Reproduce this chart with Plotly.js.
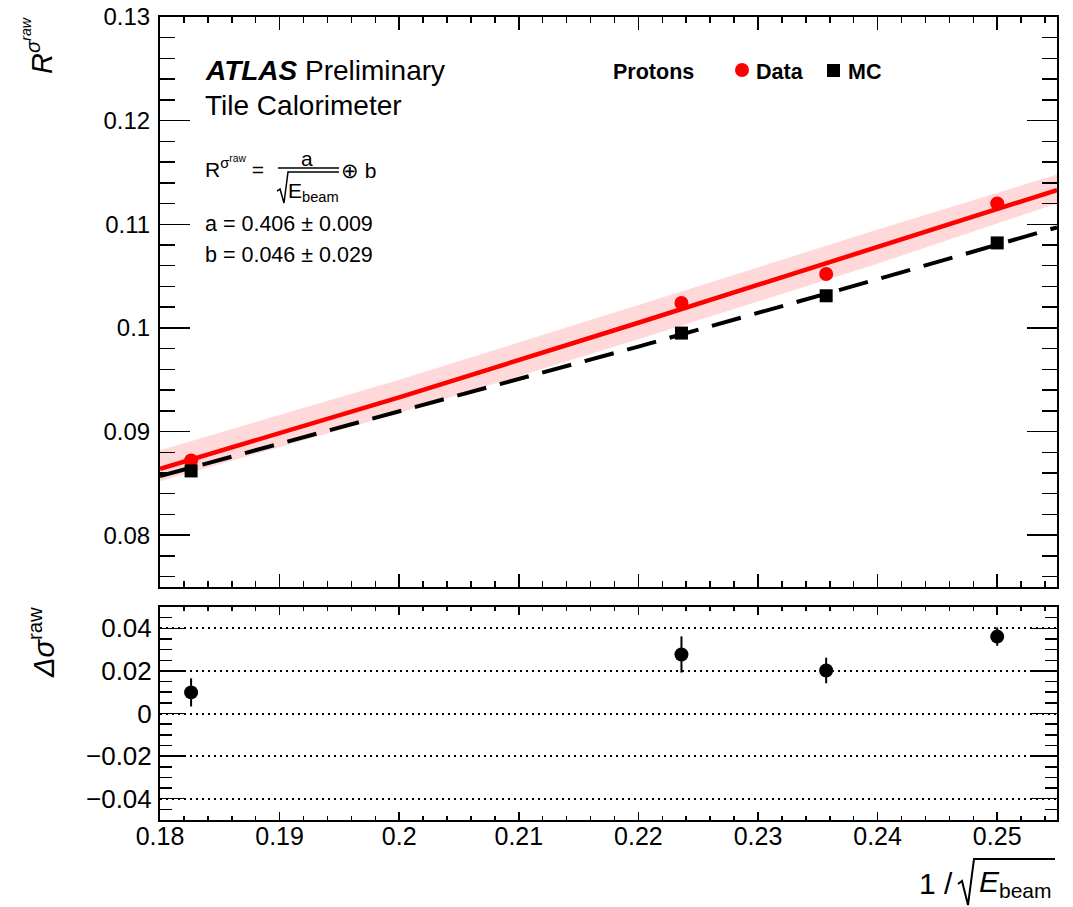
<!DOCTYPE html>
<html>
<head>
<meta charset="utf-8">
<script src="https://cdn.plot.ly/plotly-3.0.1.min.js"></script>
<style>html,body{margin:0;padding:0;background:#fff;}#chart{width:1073px;height:907px;}</style>
</head>
<body>
<div id="chart"></div>
<script>
// ---------- data ----------
const xBeam = [0.1826, 0.2236, 0.2357, 0.25];          // 1/sqrt(E_beam)
const rData = [0.0872, 0.1024, 0.1052, 0.1120];        // R^sigma_raw, data
const rMC = [0.0862, 0.0995, 0.1031, 0.1082];          // R^sigma_raw, MC
const fitX = [0.18, 0.20, 0.22, 0.24, 0.255];
const fitData = [0.0864, 0.0933, 0.1005, 0.1078, 0.1133];
const bandUp = [0.0882, 0.0950, 0.1022, 0.1095, 0.1148];
const bandLow = [0.0852, 0.0918, 0.0989, 0.1062, 0.1120];
const fitMC = [0.0857, 0.0919, 0.0982, 0.1047, 0.1097];
const delta = [0.0099, 0.0277, 0.0202, 0.0361];        // Delta sigma_raw
const deltaErr = [0.0066, 0.0085, 0.0060, 0.0043];

const xTickVals = [0.18, 0.19, 0.20, 0.21, 0.22, 0.23, 0.24, 0.25];
const xTickText = ["0.18", "0.19", "0.2", "0.21", "0.22", "0.23", "0.24", "0.25"];
const yTickVals = [0.08, 0.09, 0.10, 0.11, 0.12, 0.13];
const yTickText = ["0.08", "0.09", "0.1", "0.11", "0.12", "0.13"];
const y2TickVals = [-0.04, -0.02, 0, 0.02, 0.04];
const y2TickText = ["\u22120.04", "\u22120.02", "0", "0.02", "0.04"];

// ---------- pixel helpers for decorations ----------
const L = 160, R = 1057, T = 17, B = 820;
const px = p => (p - L) / (R - L);
const py = p => (B - p) / (B - T);
const path = pts => pts.map((p, i) => (i ? 'L' : 'M') + px(p[0]).toFixed(5) + ',' + py(p[1]).toFixed(5)).join(' ');
const FONT = "Liberation Sans, Arial, sans-serif";

const traces = [
  { x: fitX.concat(fitX.slice().reverse()), y: bandUp.concat(bandLow.slice().reverse()),
    xaxis: 'x', yaxis: 'y', mode: 'lines', fill: 'toself', line: {width: 0},
    fillcolor: 'rgba(255,120,120,0.28)', hoverinfo: 'skip', showlegend: false },
  { x: fitX, y: fitData, xaxis: 'x', yaxis: 'y', mode: 'lines',
    line: {color: '#ff0000', width: 4.5}, showlegend: false },
  { x: fitX, y: fitMC, xaxis: 'x', yaxis: 'y', mode: 'lines',
    line: {color: '#000000', width: 4, dash: '30px,14px'}, showlegend: false },
  { x: xBeam, y: rData, xaxis: 'x', yaxis: 'y', mode: 'markers', name: 'Data',
    marker: {symbol: 'circle', size: 14, color: '#ff0000'}, showlegend: false },
  { x: xBeam, y: rMC, xaxis: 'x', yaxis: 'y', mode: 'markers', name: 'MC',
    marker: {symbol: 'square', size: 13, color: '#000000'}, showlegend: false },
  { x: xBeam, y: delta, xaxis: 'x2', yaxis: 'y2', mode: 'markers',
    marker: {symbol: 'circle', size: 14, color: '#000000'},
    error_y: {type: 'data', array: deltaErr, visible: true, color: '#000', thickness: 2, width: 0},
    showlegend: false }
];

const axBase = {
  ticks: 'inside', showline: true, linecolor: '#000', linewidth: 2, mirror: 'allticks',
  showgrid: false, zeroline: false, tickcolor: '#000', tickwidth: 1.5,
  tickfont: {family: FONT, size: 24, color: '#000'}
};

const ann = (x, y, text, size, extra) => Object.assign({
  xref: 'paper', yref: 'paper', x: px(x), y: py(y), text: text, showarrow: false,
  xanchor: 'left', yanchor: 'middle', font: {family: FONT, size: size, color: '#000'}
}, extra || {});

const annotations = [
  ann(203, 70, '<b><i>ATLAS</i></b> Preliminary', 28),
  ann(203, 105, 'Tile Calorimeter', 28),
  ann(203, 167, 'R<sup>σ<sup>raw</sup></sup> =', 21),
  ann(307, 158, 'a', 21, {xanchor: 'center'}),
  ann(286, 192, 'E<sub>beam</sub>', 21),
  ann(339, 170, '⊕ b', 21),
  ann(203, 224, 'a = 0.406 ± 0.009', 21.5),
  ann(203, 255, 'b = 0.046 ± 0.029', 21.5),
  ann(611, 72, '<b>Protons</b>', 21.5),
  ann(754, 72, '<b>Data</b>', 21.5),
  ann(846, 72, '<b>MC</b>', 21.5),
  ann(38, 46, '<i>R</i><sup><i>σ</i><sup><i>raw</i></sup></sup>', 29, {xanchor: 'center', textangle: -90}),
  ann(42, 643, '<i>Δσ</i><sup>raw</sup>', 29, {xanchor: 'center', textangle: -90}),
  ann(955, 883, '1 /', 30, {xanchor: 'right'}),
  ann(977, 883, '<i>E</i><sub>beam</sub>', 30)
];

const shapes = [
  // fraction bar and radical of the fit formula
  {type: 'line', xref: 'paper', yref: 'paper', x0: px(278), x1: px(339), y0: py(168), y1: py(168), line: {color: '#000', width: 1.5}},
  {type: 'path', xref: 'paper', yref: 'paper', path: path([[277, 191], [280, 189], [284, 203], [288, 172], [339, 172]]), line: {color: '#000', width: 1.5}},
  // radical of the x-axis title
  {type: 'path', xref: 'paper', yref: 'paper', path: path([[958, 884], [962, 881], [968, 905], [974, 859], [1055, 859]]), line: {color: '#000', width: 2}},
  // legend symbols
  {type: 'circle', xref: 'paper', yref: 'paper', x0: px(735), x1: px(749), y0: py(77), y1: py(63), fillcolor: '#ff0000', line: {width: 0}},
  {type: 'rect', xref: 'paper', yref: 'paper', x0: px(827), x1: px(840), y0: py(77), y1: py(64), fillcolor: '#000', line: {width: 0}}
];

const layout = {
  width: 1073, height: 907,
  margin: {l: L, r: 1073 - R, t: T, b: 907 - B, pad: 0},
  paper_bgcolor: '#fff', plot_bgcolor: '#fff', showlegend: false,
  font: {family: FONT, color: '#000'},
  xaxis: Object.assign({}, axBase, {domain: [0, 1], anchor: 'y', range: [0.18, 0.255],
    tickmode: 'array', tickvals: xTickVals, ticktext: xTickText, showticklabels: false,
    ticklen: 13, minor: {ticks: 'inside', ticklen: 6, tickmode: 'linear', tick0: 0.18, dtick: 0.002, tickcolor: '#000', tickwidth: 1.5}}),
  yaxis: Object.assign({}, axBase, {domain: [py(587), 1], anchor: 'x', range: [0.075, 0.13],
    tickmode: 'array', tickvals: yTickVals, ticktext: yTickText, ticklen: 30, ticklabelstandoff: 3,
    minor: {ticks: 'inside', ticklen: 15, tickmode: 'linear', tick0: 0.08, dtick: 0.002, tickcolor: '#000', tickwidth: 1.5}}),
  xaxis2: Object.assign({}, axBase, {domain: [0, 1], anchor: 'y2', range: [0.18, 0.255],
    tickmode: 'array', tickvals: xTickVals, ticktext: xTickText, ticklen: 8, ticklabelstandoff: -7,
    tickfont: {family: FONT, size: 25, color: '#000'},
    minor: {ticks: 'inside', ticklen: 4, tickmode: 'linear', tick0: 0.18, dtick: 0.002, tickcolor: '#000', tickwidth: 1.5}}),
  yaxis2: Object.assign({}, axBase, {domain: [0, py(607)], anchor: 'x2', range: [-0.05, 0.05],
    tickmode: 'array', tickvals: y2TickVals, ticktext: y2TickText, ticklen: 25, ticklabelstandoff: 1,
    tickfont: {family: FONT, size: 26, color: '#000'},
    showgrid: true, gridcolor: '#000', gridwidth: 2, griddash: '2px,4px',
    minor: {ticks: 'inside', ticklen: 12, tickmode: 'linear', tick0: 0, dtick: 0.005, tickcolor: '#000', tickwidth: 1.5}}),
  annotations: annotations,
  shapes: shapes
};

Plotly.newPlot('chart', traces, layout, {displayModeBar: false, staticPlot: true});
</script>
</body>
</html>
